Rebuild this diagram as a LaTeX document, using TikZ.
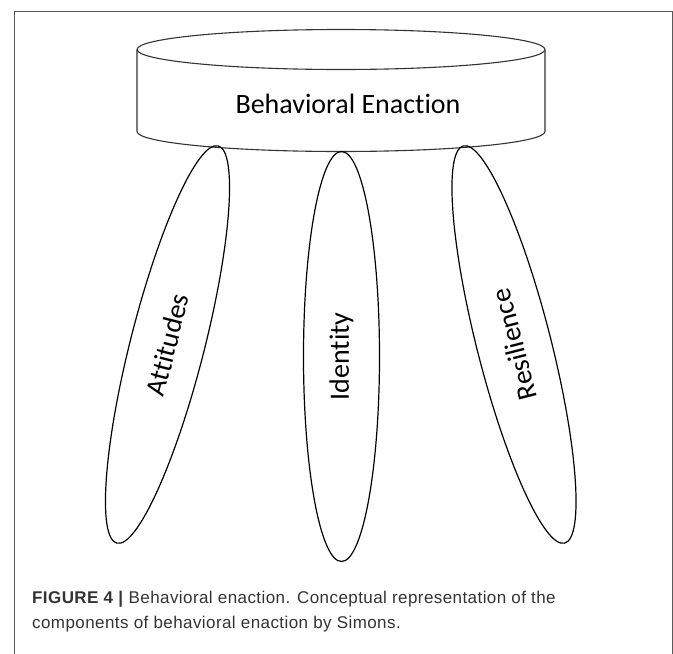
\documentclass[tikz,border=0pt]{standalone}
\usepackage{fontspec}
\setmainfont{Carlito}[Ligatures=NoCommon]
\newfontfamily\capfont{Liberation Sans}[LetterSpace=2.5]
\usetikzlibrary{shapes.geometric}
\begin{document}
\begin{tikzpicture}[x=1pt,y=-1pt,
  frameline/.style={draw=black!65,line width=0.9pt},
  cylline/.style={draw=black!80,line width=1.1pt},
  leg/.style={ellipse,draw=black,line width=1.2pt,inner sep=0pt,
    minimum width=410pt,minimum height=74pt,
    font=\fontsize{28}{34}\selectfont},
  captext/.style={font=\capfont\fontsize{17}{20}\selectfont,text=black!80,
    anchor=base west,inner sep=0pt}]
\useasboundingbox (0,0) rectangle (673,654);
% frame
\draw[frameline] (14,654) -- (14,11) -- (672,11) -- (672,654);
% cylinder
\draw[cylline] (341,49.5) ellipse [x radius=204, y radius=20];
\draw[cylline] (137,49.5) -- (137,131.5)
  arc[start angle=180, end angle=360, x radius=204, y radius=-20]
  -- (545,49.5);
\node[font=\fontsize{28}{34}\selectfont,anchor=base,inner sep=0pt] (be) at (348,113) {Behavioral Enaction};
% legs
\node[leg,rotate=75.7] (att) at (167.5,344.5) {Attitudes};
\node[leg,rotate=90,minimum height=76pt] (idn) at (341.5,356.5) {Identity};
\node[leg,rotate=104.3] (res) at (514,344.5) {Resilience};
% caption
\node[captext] (cap1) at (32,603) {\textbf{FIGURE 4 |} Behavioral enaction. Conceptual representation of the};
\node[captext] (cap2) at (32,628) {components of behavioral enaction by Simons.};
\end{tikzpicture}
\end{document}
